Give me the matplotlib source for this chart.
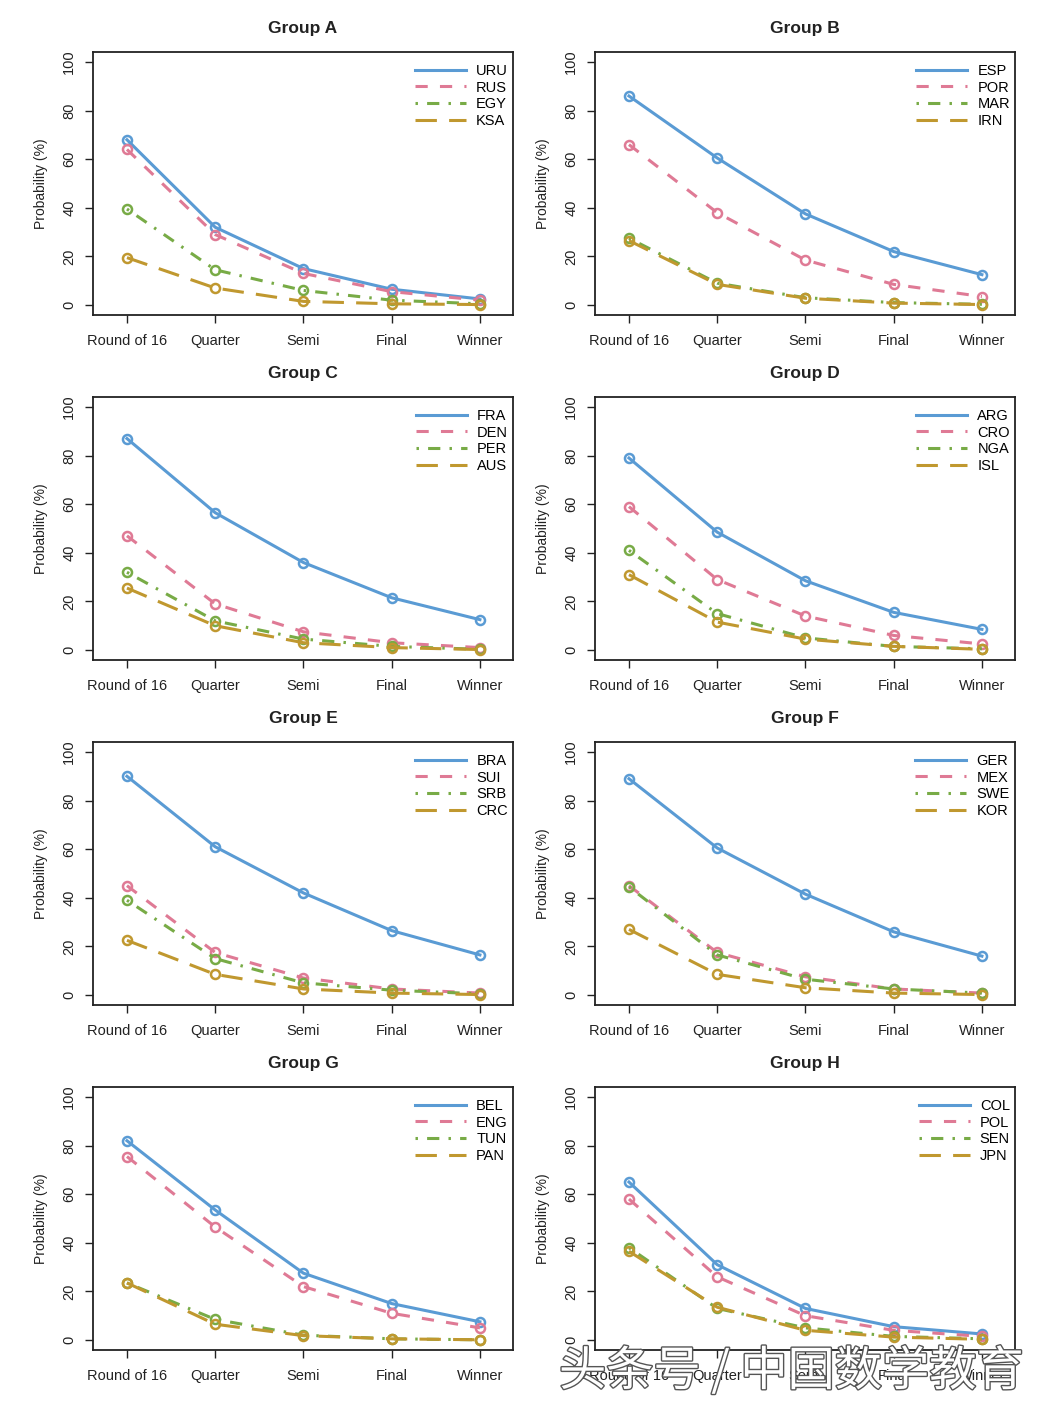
import matplotlib.pyplot as plt
import matplotlib.patheffects as pe

plt.rcParams['font.family'] = ['Liberation Sans', 'DejaVu Sans']

# ---------------------------------------------------------------------
# data (probability in %)
# ---------------------------------------------------------------------
stages = ["Round of 16", "Quarter", "Semi", "Final", "Winner"]

groups = ["Group A", "Group B", "Group C", "Group D",
          "Group E", "Group F", "Group G", "Group H"]

teams = [
    ["URU", "RUS", "EGY", "KSA"],
    ["ESP", "POR", "MAR", "IRN"],
    ["FRA", "DEN", "PER", "AUS"],
    ["ARG", "CRO", "NGA", "ISL"],
    ["BRA", "SUI", "SRB", "CRC"],
    ["GER", "MEX", "SWE", "KOR"],
    ["BEL", "ENG", "TUN", "PAN"],
    ["COL", "POL", "SEN", "JPN"],
]

group_a = [[68, 32, 15, 6.5, 2.5], [64, 29, 13, 5.5, 2], [39.5, 14.5, 6, 2, 0.5], [19.5, 7, 1.5, 0.5, 0.2]]
group_b = [[86, 60.5, 37.5, 22, 12.5], [66, 38, 18.5, 8.5, 3.5], [27.5, 9, 3, 1, 0.3], [26.5, 8.5, 2.8, 0.8, 0.2]]
group_c = [[87, 56.5, 36, 21.5, 12.5], [47, 19, 7.5, 3, 1], [32, 12, 4.5, 1.5, 0.3], [25.5, 10, 3, 1, 0.2]]
group_d = [[79, 48.5, 28.5, 15.5, 8.5], [59, 29, 14, 6, 2.5], [41, 15, 5, 1.5, 0.5], [31, 11.5, 4.5, 1.5, 0.3]]
group_e = [[90, 61, 42, 26.5, 16.5], [45, 17.5, 7, 2.5, 0.8], [39, 15, 5, 2, 0.5], [22.5, 8.5, 2.5, 0.8, 0.2]]
group_f = [[89, 60.5, 41.5, 26, 16], [45, 17.5, 7.5, 2.5, 0.8], [44.5, 16.5, 6.5, 2.5, 0.8], [27, 8.5, 3, 0.8, 0.2]]
group_g = [[82, 53.5, 27.5, 15, 7.5], [75.5, 46.5, 22, 11, 5], [23.5, 8.5, 2, 0.5, 0.1], [23.5, 6.5, 1.8, 0.5, 0.1]]
group_h = [[65, 31, 13, 5.5, 2.5], [58, 26, 10, 4, 1.5], [38, 13, 5, 1.5, 0.5], [36.5, 13.5, 4, 1.2, 0.3]]

values = [group_a, group_b, group_c, group_d, group_e, group_f, group_g, group_h]

# ---------------------------------------------------------------------
# styling
# ---------------------------------------------------------------------
COLORS = ["#5A9BD4", "#DF7A95", "#78AB46", "#C0982F"]
STYLES = ["-", (0, (4, 4)), (0, (0.8, 3, 4, 3)), (0, (7, 4))]

W, H = 1054, 1412
fig = plt.figure(figsize=(W / 100, H / 100), dpi=100)

col_left = [93, 595]
row_top = [52, 397, 742, 1087]
box_w, box_h = 420, 263

for i, (title, names, series) in enumerate(zip(groups, teams, values)):
    r, c = divmod(i, 2)
    x0 = col_left[c]
    y0 = row_top[r]
    ax = fig.add_axes([x0 / W, 1 - (y0 + box_h) / H, box_w / W, box_h / H])

    x = range(len(stages))
    for k in range(4):
        ax.plot(x, series[k], color=COLORS[k], ls=STYLES[k], lw=2.2,
                marker="o", ms=6.5, mfc="none", mew=1.8, label=names[k])

    ax.set_xlim(-0.385, 4.375)
    ax.set_ylim(-4.1, 104.1)
    ax.set_xticks(list(x))
    ax.set_xticklabels(stages, fontsize=10.5, color="#222222")
    ax.set_yticks(range(0, 101, 20))
    ax.set_yticklabels([str(v) for v in range(0, 101, 20)], rotation=90,
                       va="center", fontsize=10.5, color="#222222")
    ax.tick_params(axis="both", length=6, width=1, direction="out", color="#222222")
    ax.tick_params(axis="x", pad=8)
    ax.tick_params(axis="y", pad=6)
    for sp in ax.spines.values():
        sp.set_linewidth(1.3)
        sp.set_color("#222222")
    ax.set_ylabel("Probability (%)", fontsize=10, labelpad=10, color="#222222")
    ax.set_title(title, fontsize=12.5, fontweight="bold", pad=14, color="#222222")

    leg = ax.legend(loc="upper right", bbox_to_anchor=(1.0, 0.974),
                    frameon=False, fontsize=10.5,
                    handlelength=3.5, handletextpad=0.7, labelspacing=0.18,
                    borderaxespad=0.0, borderpad=0.35)
    for h in leg.get_lines():
        h.set_marker("")

# watermark
fig.text(1024 / W, 1 - 1372 / H, "头条号 / 中国数学教育", ha="right", va="center",
         fontsize=34, color="white", family=["Noto Sans CJK SC", "DejaVu Sans"],
         path_effects=[pe.withStroke(linewidth=2, foreground="#555555")])

fig.savefig("out.png", dpi=100, facecolor="white")
